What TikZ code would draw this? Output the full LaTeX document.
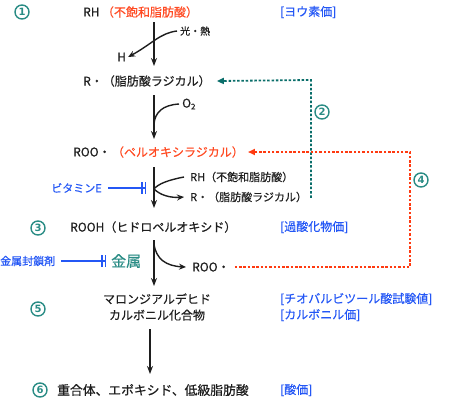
\documentclass[tikz,border=0pt]{standalone}
\usepackage{fontspec}
\setmainfont{Noto Sans CJK JP}[FakeBold=0.5]
\newfontfamily\numfont{DejaVu Sans}
\usetikzlibrary{arrows.meta}
\definecolor{orng}{HTML}{FF4A22}
\definecolor{orngd}{HTML}{FF3A10}
\definecolor{blu}{HTML}{2457F5}
\definecolor{tealc}{HTML}{2A8C85}
\definecolor{teald}{HTML}{0A6E6A}
\definecolor{ink}{HTML}{1E1E1E}
\begin{document}
\begin{tikzpicture}[x=1pt,y=-1pt,
  txt/.style={inner sep=0pt, anchor=west, text=ink, font=\fontsize{12}{14}\selectfont},
  sml/.style={inner sep=0pt, anchor=west, text=ink, font=\fontsize{11}{13}\selectfont},
  tiny/.style={inner sep=0pt, anchor=west, text=ink, font=\fontsize{10}{12}\selectfont},
  redtxt/.style={txt, text=orng},
  bluetxt/.style={txt, text=blu},
  numc/.style={circle, draw=tealc, line width=1.4pt, minimum size=14pt, inner sep=0pt, text=tealc, font=\numfont\bfseries\fontsize{10}{10}\selectfont},
  main/.style={ink, line width=1.6pt, -{Stealth[length=8pt,width=6pt]}},
  curv/.style={ink, line width=1.4pt},
  inhib/.style={blu, line width=1.5pt, -{Bar[width=12pt,sep=2pt]Bar[width=12pt]}},
  tdot/.style={teald, line width=1.8pt, dash pattern=on 2.5pt off 1.8pt, -{Triangle[length=7pt,width=6pt]}},
  odot/.style={orngd, line width=1.8pt, dash pattern=on 2.5pt off 1.8pt, -{Triangle[length=7pt,width=6pt]}},
]
\useasboundingbox (0,0) rectangle (450,400);
\coordinate (ax) at (154,0);
\coordinate (axb) at (150,0);

\node[numc] (n1) at (22,12) {1};
\node[txt] (rh) at (83,12) {RH};
\node[redtxt] (rhjp) at ([xshift=2pt]rh.east) {（不飽和脂肪酸）};
\node[bluetxt] (iv) at (280,12) {[ヨウ素価]};
\node[tiny] (heat) at (180,31) {光・熱};
\node[txt] (h) at (117,57) {H};
\node[txt] (rrad) at (83,81) {R・（脂肪酸ラジカル）};
\node[numc] (n2) at (322,112) {2};
\node[txt] (o2) at (182,104) {O\textsubscript{2}};
\node[txt] (roo) at (73,152) {ROO・};
\node[redtxt] (roojp) at ([xshift=1pt]roo.east) {（ペルオキシラジカル）};
\node[sml] (rh2) at (190,177) {RH（不飽和脂肪酸）};
\node[sml] (r2) at (190,197) {R・（脂肪酸ラジカル）};
\node[sml, text=blu, anchor=east] (vite) at (102,188) {ビタミンE};
\node[numc] (n4) at (421,180) {4};
\node[numc] (n3) at (38,228) {3};
\node[txt] (rooh) at (70,227) {ROOH（ヒドロペルオキシド）};
\node[bluetxt] (pv) at (280,227) {[過酸化物価]};
\node[sml, text=blu] (seq) at (0,261) {金属封鎖剤};
\node[inner sep=0pt, anchor=west, text=tealc, font=\fontsize{15}{16}\selectfont] (metal) at (111,261) {金属};
\node[txt] (roo3) at (192,267) {ROO・};
\node[numc] (n5) at (38,309) {5};
\node[txt, anchor=center, align=center, font=\fontsize{12}{16}\selectfont] (mal) at (157,307) {マロンジアルデヒド\\カルボニル化合物};
\node[bluetxt] (tba) at (280,299) {[チオバルビツール酸試験値]};
\node[bluetxt] (cv) at (280,315) {[カルボニル価]};
\node[numc] (n6) at (40,390) {6};
\node[txt, font=\fontsize{12.8}{14}\selectfont] (prod) at (57,390) {重合体、エポキシド、低級脂肪酸};
\node[bluetxt] (av) at (280,390) {[酸価]};

% main arrows (offsets measured from the text centres)
\draw[main] ([yshift=-10pt]ax |- rh) -- ([yshift=15pt]ax |- rrad);
\draw[main] ([yshift=-14pt]ax |- rrad) -- ([yshift=13pt]ax |- roo);
\draw[main] ([yshift=-15pt]ax |- roo) -- ([yshift=19pt]ax |- rooh);
\draw[main] ([yshift=-13pt]ax |- rooh) -- ([yshift=21pt]ax |- mal);
\draw[main] ([yshift=-22pt]axb |- mal) -- ([yshift=16pt]axb |- prod);

% side curves
\draw[curv, -{Stealth[length=7pt,width=6pt]}] ([xshift=-3pt]heat.west) .. controls (160,33) and (152,44) .. ([xshift=2pt]h.east);
\coordinate (o2end) at (154,124);
\draw[curv] ([xshift=-3pt]o2.west) .. controls (163,105) and (155,112) .. (o2end);
\coordinate (rhin) at (154,189);
\draw[curv] ([xshift=-6pt]rh2.west) .. controls (168,180) and (158,184) .. (rhin);
\draw[curv, -{Stealth[length=7pt,width=6pt]}] (rhin) .. controls (160,195) and (170,198) .. ([xshift=-6pt]r2.west);
\coordinate (roob) at (154,244);
\draw[curv, -{Stealth[length=7pt,width=6pt]}] (roob) .. controls (156,259) and (166,266) .. ([xshift=-6pt]roo3.west);

% inhibitors
\draw[inhib] ([xshift=6pt]vite.east) -- ([xshift=-8pt]ax |- vite.east);
\draw[inhib] ([xshift=6pt]seq.east) -- ([xshift=-5pt]metal.west);

% dotted feedback
\coordinate (tc1) at (311,197);
\coordinate (tc2) at (311,80);
\draw[tdot] ([xshift=3pt]r2.east) -- (tc1) -- (tc2) -- ([xshift=6pt]rrad.east);
\coordinate (oc1) at (410,267);
\coordinate (oc2) at (410,152);
\draw[odot] ([xshift=5pt]roo3.east) -- (oc1) -- (oc2) -- ([xshift=4pt]roojp.east);
\end{tikzpicture}
\end{document}
